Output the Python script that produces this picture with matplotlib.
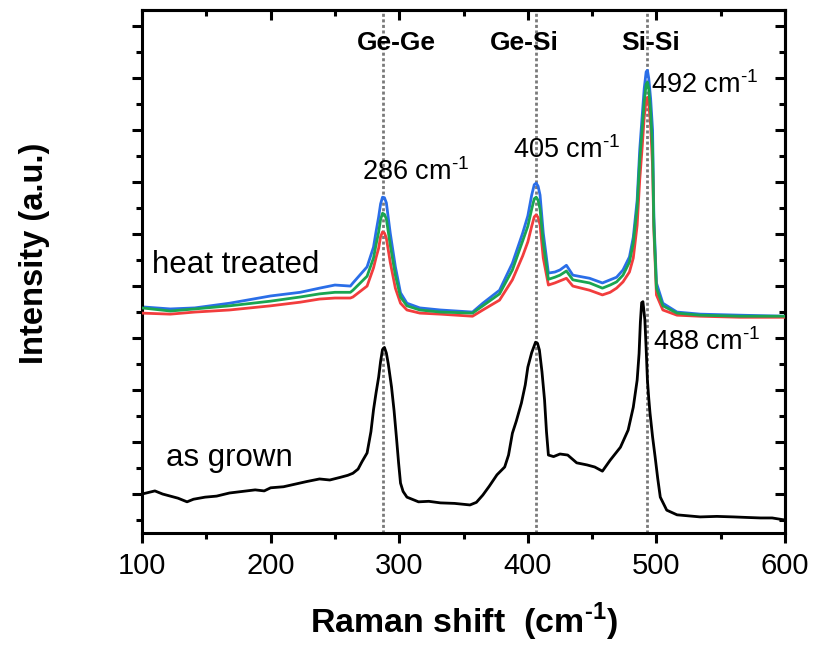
import matplotlib
matplotlib.use("Agg")
import matplotlib.pyplot as plt
from matplotlib.ticker import MultipleLocator, NullFormatter

plt.rcParams['font.family'] = ['Liberation Sans', 'DejaVu Sans']
plt.rcParams['mathtext.fontset'] = 'custom'
plt.rcParams['mathtext.rm'] = 'Liberation Sans'
plt.rcParams['mathtext.bf'] = 'Liberation Sans:bold'

# as grown (black)
xGrown = [100, 105, 110, 116, 122, 128, 135, 140, 149, 158, 168, 178, 188, 195, 200, 210,
          219, 228, 238, 246, 254, 260, 264, 268, 271, 275, 278, 280, 282, 284, 285.5, 287,
          288.5, 290, 291.5, 294, 296, 298, 299.5, 301, 303, 306, 315, 323, 332, 343,
          355, 360, 365, 370, 376, 382, 385, 388, 391, 395, 398, 400, 403, 406, 407.5,
          409, 411, 413, 414.5, 416, 420, 425, 431, 438, 446, 452, 458, 464, 472, 478,
          482, 485, 486.5, 487.5, 488.5, 489.5, 491, 492, 493, 494, 495, 497, 499, 501,
          503, 508, 516, 525, 534, 547, 560, 570, 581, 590, 600]
yGrown = [0.00, 0.03, 0.06, 0.00, -0.04, -0.08, -0.15, -0.10, -0.06, -0.04, 0.02, 0.05, 0.08, 0.06, 0.12, 0.14,
          0.19, 0.24, 0.29, 0.27, 0.32, 0.36, 0.40, 0.48, 0.62, 0.79, 1.20, 1.62, 1.95, 2.25, 2.55, 2.78,
          2.82, 2.71, 2.50, 2.06, 1.60, 1.04, 0.60, 0.21, 0.05, -0.06, -0.15, -0.14, -0.17, -0.18,
          -0.21, -0.16, -0.02, 0.15, 0.37, 0.52, 0.75, 1.17, 1.40, 1.75, 2.10, 2.44, 2.72, 2.92, 2.90,
          2.77, 2.35, 1.81, 1.20, 0.75, 0.72, 0.77, 0.75, 0.60, 0.56, 0.52, 0.44, 0.65, 0.90, 1.23,
          1.67, 2.19, 2.70, 3.30, 3.68, 3.70, 3.35, 2.80, 2.19, 1.85, 1.56, 1.10, 0.71, 0.30,
          -0.06, -0.31, -0.40, -0.42, -0.44, -0.43, -0.44, -0.45, -0.46, -0.46, -0.50]

# heat treated (three samples)
xHeat = [100, 122, 141, 168, 200, 223, 238, 250, 262, 264, 275, 280, 282, 284, 285.5, 287,
         288.5, 290, 293, 297, 301, 306, 316, 332, 357, 365, 378, 388, 396, 400, 403, 405,
         406.5, 408, 409.5, 412, 416, 421, 425, 430, 435, 448, 458, 464, 469, 474, 479, 482,
         485, 487, 489, 490.5, 492, 493, 494, 495.5, 497, 498, 500, 505, 516, 534, 565, 600]
yBlue = [3.60, 3.56, 3.58, 3.67, 3.81, 3.88, 3.96, 4.02, 4.00, 4.06, 4.37, 4.75, 5.05, 5.33, 5.58, 5.71,
         5.70, 5.60, 5.02, 4.37, 3.87, 3.67, 3.58, 3.54, 3.50, 3.67, 3.92, 4.44, 5.02, 5.35, 5.75, 5.95,
         5.98, 5.92, 5.75, 5.02, 4.25, 4.27, 4.31, 4.40, 4.21, 4.15, 4.06, 4.12, 4.17, 4.31, 4.56, 4.94,
         5.65, 6.62, 7.30, 7.80, 8.12, 8.15, 8.00, 7.60, 7.00, 5.33, 4.06, 3.67, 3.50, 3.46, 3.44, 3.42]
yGreen = [3.58, 3.52, 3.56, 3.62, 3.71, 3.79, 3.85, 3.88, 3.88, 3.92, 4.19, 4.54, 4.80, 5.04, 5.28, 5.40,
          5.38, 5.29, 4.79, 4.21, 3.79, 3.62, 3.54, 3.50, 3.48, 3.62, 3.85, 4.31, 4.87, 5.15, 5.48, 5.68,
          5.71, 5.65, 5.48, 4.83, 4.13, 4.17, 4.21, 4.29, 4.12, 4.06, 3.96, 4.02, 4.08, 4.21, 4.46, 4.83,
          5.52, 6.42, 7.05, 7.55, 7.88, 7.92, 7.80, 7.35, 6.62, 5.17, 3.96, 3.62, 3.48, 3.44, 3.42, 3.42]
yRed = [3.48, 3.46, 3.50, 3.54, 3.62, 3.69, 3.75, 3.77, 3.77, 3.79, 4.00, 4.35, 4.55, 4.73, 4.95, 5.04,
        5.02, 4.92, 4.46, 3.96, 3.67, 3.54, 3.48, 3.46, 3.42, 3.54, 3.73, 4.12, 4.58, 4.85, 5.15, 5.33,
        5.37, 5.32, 5.18, 4.54, 4.02, 4.06, 4.10, 4.15, 4.00, 3.92, 3.83, 3.88, 3.96, 4.08, 4.27, 4.54,
        5.17, 6.04, 6.70, 7.25, 7.58, 7.63, 7.52, 7.10, 6.30, 5.08, 3.83, 3.54, 3.44, 3.42, 3.40, 3.40]

lineas = [287.5, 406, 492.5]
bandas = ["Ge-Ge", "Ge-Si", "Si-Si"]
bandasX = [297.5, 397, 495.4]

fig = plt.figure(figsize=(8.13, 6.45), dpi=100)
ax = fig.add_axes([0.1747, 0.1736, 0.7909, 0.8109])

for xv in lineas:
    ax.axvline(xv, color='#7a7a7a', lw=2.0, linestyle=(0, (1.1, 0.9)), zorder=1)

ax.plot(xGrown, yGrown, color='black', lw=2.0, zorder=3)
ax.plot(xHeat, yRed, color='#f23d3d', lw=2.0, zorder=3)
ax.plot(xHeat, yGreen, color='#1aa551', lw=2.0, zorder=4)
ax.plot(xHeat, yBlue, color='#2a6ee8', lw=2.0, zorder=2)

for b, bx in zip(bandas, bandasX):
    ax.text(bx, 8.67, b, ha='center', va='center', fontsize=19, fontweight='bold', zorder=5)

etiqueta = "{} cm$^{{\u2010 1}}$"
ax.text(271, 6.04, etiqueta.format(286), fontsize=19.5, va='baseline', ha='left')
ax.text(388.5, 6.46, etiqueta.format(405), fontsize=19.5, va='baseline', ha='left')
ax.text(495.8, 7.71, etiqueta.format(492), fontsize=19.5, va='baseline', ha='left')
ax.text(497.4, 2.77, etiqueta.format(488), fontsize=19.5, va='baseline', ha='left')
ax.text(107.8, 4.25, "heat treated", fontsize=22.5, va='baseline', ha='left')
ax.text(118.7, 0.54, "as grown", fontsize=22.5, va='baseline', ha='left')

ax.set_xlim(100, 600)
ax.set_ylim(-0.75, 9.31)
ax.xaxis.set_major_locator(MultipleLocator(100))
ax.xaxis.set_minor_locator(MultipleLocator(50))
ax.yaxis.set_major_locator(MultipleLocator(1))
ax.yaxis.set_minor_locator(MultipleLocator(0.5))
ax.yaxis.set_major_formatter(NullFormatter())
ax.tick_params(which='major', direction='out', length=7.5, width=2.2, labelsize=21, pad=6)
ax.tick_params(which='minor', direction='out', length=4, width=2.2)

for s in ax.spines.values():
    s.set_linewidth(2.2)

# ejes espejo con marcas hacia adentro
top = ax.secondary_xaxis('top')
top.xaxis.set_major_locator(MultipleLocator(100))
top.xaxis.set_minor_locator(MultipleLocator(50))
top.xaxis.set_major_formatter(NullFormatter())
top.tick_params(which='major', direction='in', length=7.5, width=2.2)
top.tick_params(which='minor', direction='in', length=4, width=2.2)
top.spines['top'].set_linewidth(2.2)

der = ax.secondary_yaxis('right')
der.yaxis.set_major_locator(MultipleLocator(1))
der.yaxis.set_minor_locator(MultipleLocator(0.5))
der.yaxis.set_major_formatter(NullFormatter())
der.tick_params(which='major', direction='in', length=7.5, width=2.2)
der.tick_params(which='minor', direction='in', length=4, width=2.2)
der.spines['right'].set_linewidth(2.2)

ax.set_xlabel("Raman shift  (cm$^{\\mathbf{\u2010 1}}$)", fontsize=24.5, fontweight='bold', labelpad=15)
ax.set_ylabel("Intensity (a.u.)", fontsize=23.5, fontweight='bold')
ax.yaxis.set_label_coords(-0.143, 0.535)

fig.savefig("out.png", dpi=100)
